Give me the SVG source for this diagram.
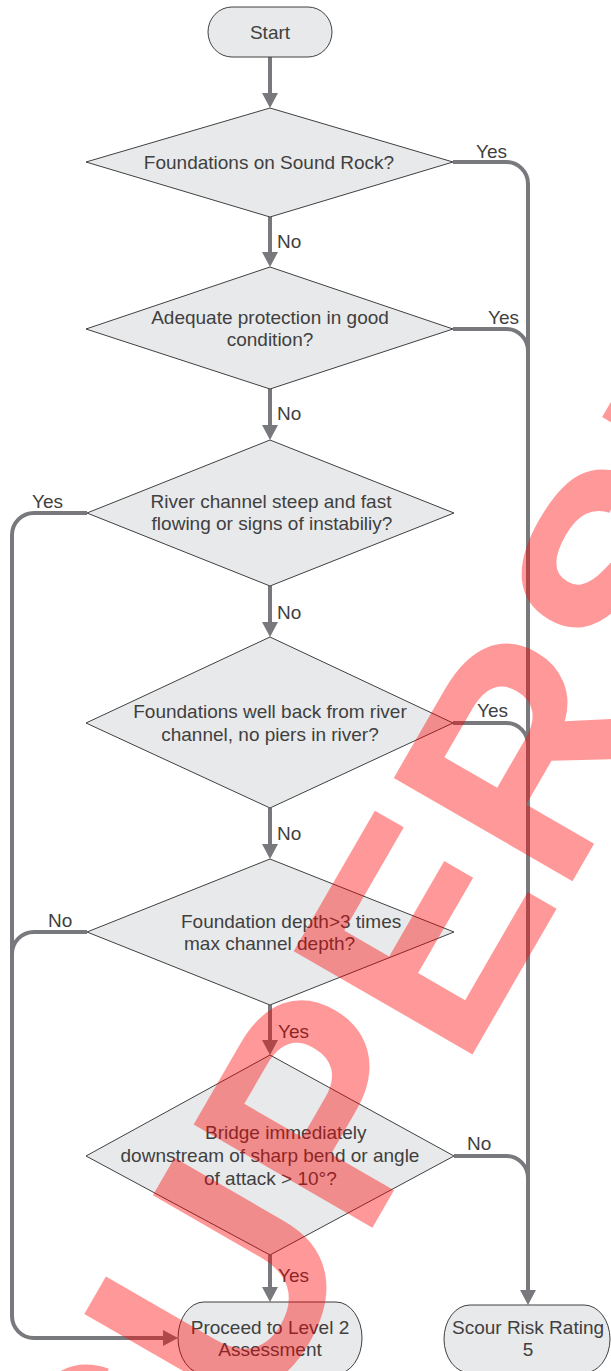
<svg xmlns="http://www.w3.org/2000/svg" width="611" height="1371" viewBox="0 0 611 1371">
<defs>
<style>
.node{fill:#e8e9ea;stroke:#404040;stroke-width:1}
.t{font-family:"Liberation Sans",Arial,sans-serif;font-size:19px;fill:#404040;text-anchor:middle}
.ts{font-family:"Liberation Sans",Arial,sans-serif;font-size:19px;fill:#404040;text-anchor:start}
.lbl{font-family:"Liberation Sans",Arial,sans-serif;font-size:19px;fill:#404040;text-anchor:start}
.c{fill:none;stroke:#78797c;stroke-width:4}
.wm{font-family:"Liberation Sans",Arial,sans-serif;font-weight:bold;font-size:300px;fill:#ff0000;fill-opacity:0.4}
</style>
<marker id="ah" markerUnits="userSpaceOnUse" markerWidth="15" markerHeight="16" viewBox="0 0 15 16" refX="0" refY="8" orient="auto">
<path d="M0,0 L15,8 L0,16 z" fill="#78797c"/>
</marker>
</defs>
<rect width="611" height="1371" fill="#ffffff"/>

<g id="connectors">
<path class="c" d="M270,57 V93" marker-end="url(#ah)"/>
<path class="c" d="M270,217 V252" marker-end="url(#ah)"/>
<path class="c" d="M270,389 V425" marker-end="url(#ah)"/>
<path class="c" d="M270,586 V622" marker-end="url(#ah)"/>
<path class="c" d="M270,808 V844" marker-end="url(#ah)"/>
<path class="c" d="M270,1005 V1040" marker-end="url(#ah)"/>
<path class="c" d="M270,1255 V1287" marker-end="url(#ah)"/>
<path class="c" d="M453,162 H506 A22,22 0 0 1 528,184 V1290" marker-end="url(#ah)"/>
<path class="c" d="M453,329 H506 A22,22 0 0 1 528,351"/>
<path class="c" d="M453,723 H506 A22,22 0 0 1 528,745"/>
<path class="c" d="M454,1156 H506 A22,22 0 0 1 528,1178"/>
<path class="c" d="M87,513 H34 A22,22 0 0 0 12,535 V1316 A22,22 0 0 0 34,1338 H163" marker-end="url(#ah)"/>
<path class="c" d="M87,932 H34 A22,22 0 0 0 12,954"/>
<text class="lbl" x="476" y="158">Yes</text>
<text class="lbl" x="277" y="248">No</text>
<text class="lbl" x="488" y="324">Yes</text>
<text class="lbl" x="277" y="420">No</text>
<text class="lbl" x="32" y="508">Yes</text>
<text class="lbl" x="277" y="619">No</text>
<text class="lbl" x="477" y="717">Yes</text>
<text class="lbl" x="277" y="840">No</text>
<text class="lbl" x="48" y="927">No</text>
<text class="lbl" x="278" y="1038">Yes</text>
<text class="lbl" x="467" y="1150">No</text>
<text class="lbl" x="278" y="1282">Yes</text>
</g>

<g id="start">
<rect class="node" x="208" y="7" width="124" height="50" rx="24" ry="25"/>
<text class="t" x="270" y="39">Start</text>
</g>

<g id="d1">
<polygon class="node" points="270,108 453,162 270,217 86,162"/>
<text class="t" x="269" y="169">Foundations on Sound Rock?</text>
</g>

<g id="d2">
<polygon class="node" points="270,267 453,329 270,389 86,329"/>
<text class="t" x="270" y="324">Adequate protection in good</text>
<text class="t" x="270" y="346">condition?</text>
</g>

<g id="d3">
<polygon class="node" points="270,440 454,513 270,586 87,513"/>
<text class="t" x="271" y="508">River channel steep and fast</text>
<text class="t" x="272" y="530">flowing or signs of instabiliy?</text>
</g>

<g id="d4">
<polygon class="node" points="270,637 453,723 270,808 86,723"/>
<text class="t" x="270" y="718">Foundations well back from river</text>
<text class="t" x="270" y="741">channel, no piers in river?</text>
</g>

<g id="d5">
<polygon class="node" points="270,859 454,932 270,1005 87,932"/>
<text class="ts" x="181" y="928">Foundation depth&gt;3 times</text>
<text class="ts" x="184" y="950">max channel depth?</text>
</g>

<g id="d6">
<polygon class="node" points="270,1055 454,1156 270,1255 86,1156"/>
<text class="ts" x="205" y="1139">Bridge immediately</text>
<text class="t" x="270" y="1162">downstream of sharp bend or angle</text>
<text class="ts" x="204" y="1185">of attack &gt; 10°?</text>
</g>

<g id="proceed">
<rect class="node" x="178" y="1302" width="184" height="72" rx="26" ry="36"/>
<text class="t" x="270" y="1334">Proceed to Level 2</text>
<text class="t" x="270" y="1356">Assessment</text>
</g>

<g id="scour">
<rect class="node" x="444" y="1305" width="166" height="68" rx="26" ry="34"/>
<text class="t" x="528" y="1334">Scour Risk Rating</text>
<text class="t" x="528" y="1356">5</text>
</g>

<g id="watermark">
<text class="wm" x="154" y="1606" transform="rotate(-60 154 1606)">SUPERSEDED</text>
</g>
</svg>
